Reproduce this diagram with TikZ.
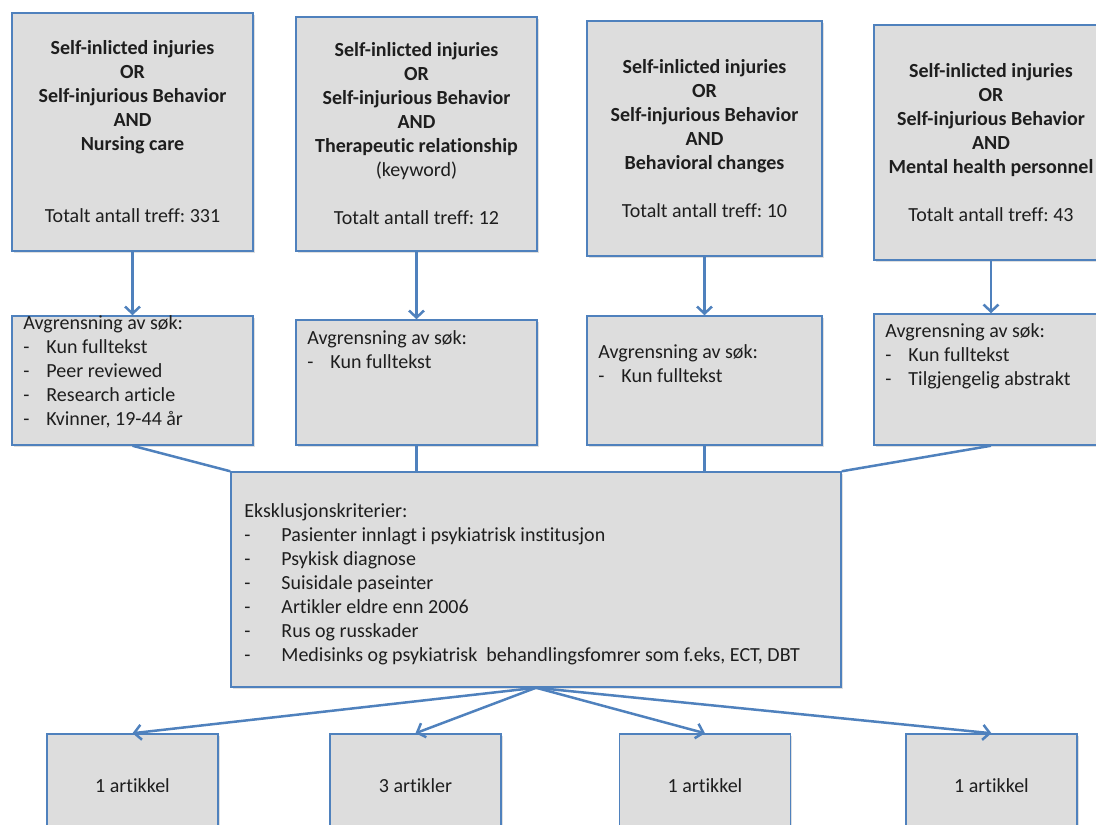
\documentclass[tikz,border=0pt]{standalone}
\usepackage{fontspec}
\setmainfont[Ligatures=NoCommon]{Carlito}
\usetikzlibrary{arrows.meta,shadows}
\definecolor{boxblue}{HTML}{4F81BD}
\definecolor{boxgray}{HTML}{DDDDDD}
\definecolor{txtgray}{HTML}{1E1E1E}
\newcommand{\dashitem}[2][23pt]{\makebox[#1][l]{-}#2}
\frenchspacing
\tikzset{
    box_base/.style = {rectangle, draw=boxblue, line width=1.5pt, fill=boxgray, inner sep=0pt, text=txtgray,
        font=\fontsize{20}{24}\selectfont, drop shadow={shadow xshift=1.5pt, shadow yshift=-1.5pt, opacity=0.25}},
    box_search/.style = {box_base, align=center},
    box_limit/.style = {box_base},
    box_excl/.style = {box_base},
    box_result/.style = {box_base, minimum width=171pt, minimum height=104pt},
    txt_list/.style = {anchor=north west, align=left, inner sep=0pt, text=txtgray, font=\fontsize{20}{24}\selectfont},
    line_conn/.style = {draw=boxblue, line width=2.5pt},
    line_arrow/.style = {line_conn, -{Straight Barb[length=7pt, width=15pt]}}
}

\begin{document}
\begin{tikzpicture}[x=1pt, y=-1pt]
    \useasboundingbox (0,0) rectangle (1096,825);
    % search boxes
    \node [box_search, minimum width=241pt, minimum height=238pt] (search1) at (132.5,132)
        {\textbf{Self-inlicted injuries}\\\textbf{OR}\\\textbf{Self-injurious Behavior}\\\textbf{AND}\\\textbf{Nursing care}\\[48pt]Totalt antall treff: 331};
    \node [box_search, minimum width=241pt, minimum height=234pt] (search2) at (416.5,134)
        {\textbf{Self-inlicted injuries}\\\textbf{OR}\\\textbf{Self-injurious Behavior}\\\textbf{AND}\\\textbf{Therapeutic relationship}\\(keyword)\\[24pt]Totalt antall treff: 12};
    \node [box_search, minimum width=235pt, minimum height=235pt] (search3) at (704.5,138.5)
        {\textbf{Self-inlicted injuries}\\\textbf{OR}\\\textbf{Self-injurious Behavior}\\\textbf{AND}\\\textbf{Behavioral changes}\\[24pt]Totalt antall treff: 10};
    \node [box_search, minimum width=234pt, minimum height=235pt] (search4) at (991,142.5)
        {\textbf{Self-inlicted injuries}\\\textbf{OR}\\\textbf{Self-injurious Behavior}\\\textbf{AND}\\\textbf{Mental health personnel}\\[24pt]Totalt antall treff: 43};

    % limits
    \node [box_limit, minimum width=241pt, minimum height=129pt] (limit1) at (132.5,380.5) {};
    \node [txt_list] (limit1_txt) at ([shift={(12,0)}]limit1.north west)
        {Avgrensning av søk:\\\dashitem{Kun fulltekst}\\\dashitem{Peer reviewed}\\\dashitem{Research article}\\\dashitem{Kvinner, 19-44 år}};
    \node [box_limit, minimum width=241pt, minimum height=125pt] (limit2) at (416.5,382.5) {};
    \node [txt_list] (limit2_txt) at ([shift={(12,11)}]limit2.north west)
        {Avgrensning av søk:\\\dashitem{Kun fulltekst}};
    \node [box_limit, minimum width=235pt, minimum height=129pt] (limit3) at (704.5,380.5) {};
    \node [txt_list] (limit3_txt) at ([shift={(12,29)}]limit3.north west)
        {Avgrensning av søk:\\\dashitem{Kun fulltekst}};
    \node [box_limit, minimum width=234pt, minimum height=131pt] (limit4) at (991,379.5) {};
    \node [txt_list] (limit4_txt) at ([shift={(12,10)}]limit4.north west)
        {Avgrensning av søk:\\\dashitem{Kun fulltekst}\\\dashitem{Tilgjengelig abstrakt}};

    % exclusion
    \node [box_excl, minimum width=610pt, minimum height=215pt] (excl) at (536,579.5) {};
    \node [txt_list] (excl_txt) at ([shift={(14,32)}]excl.north west)
        {Eksklusjonskriterier:\\
         \dashitem[37pt]{Pasienter innlagt i psykiatrisk institusjon}\\
         \dashitem[37pt]{Psykisk diagnose}\\
         \dashitem[37pt]{Suisidale paseinter}\\
         \dashitem[37pt]{Artikler eldre enn 2006}\\
         \dashitem[37pt]{Rus og russkader}\\
         \dashitem[37pt]{Medisinks og psykiatrisk\ \ behandlingsfomrer som f.eks, ECT, DBT}};

    % results
    \node [box_result] (result1) at (132.5,786) {1 artikkel};
    \node [box_result] (result2) at (415.5,786) {3 artikler};
    \node [box_result] (result3) at (705,786) {1 artikkel};
    \node [box_result] (result4) at (991.5,786) {1 artikkel};

    \foreach \i in {1,...,4}
        \draw [line_arrow] (search\i.south) -- (limit\i.north);
    \draw [line_conn] (limit1.south) -- (excl.north west);
    \draw [line_conn] (limit2.south) -- (limit2.south |- excl.north);
    \draw [line_conn] (limit3.south) -- (limit3.south |- excl.north);
    \draw [line_conn] (limit4.south) -- (excl.north east);
    \foreach \i in {1,...,4}
        \draw [line_arrow] (excl.south) -- (result\i.north);
\end{tikzpicture}
\end{document}
